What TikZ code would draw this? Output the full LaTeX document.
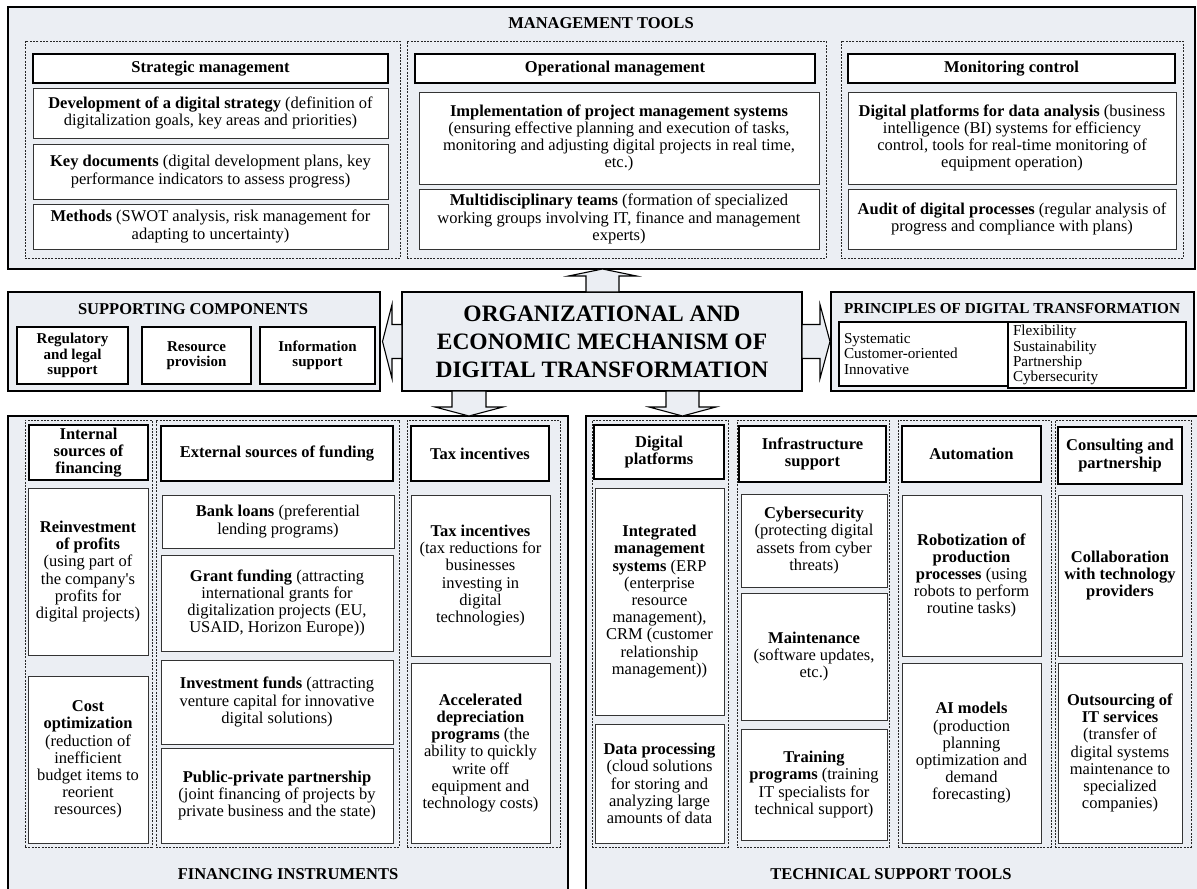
\documentclass[tikz,border=0pt]{standalone}
\usepackage{fontspec}
\setmainfont{Liberation Serif}
\newfontfamily\plainfnt{Liberation Serif}[Ligatures=TeXOff]
\newcommand\apos{{\plainfnt'}}
\usetikzlibrary{calc}
\definecolor{bgc}{HTML}{EBEEF3}
\tikzset{
  sect/.style={draw=black, line width=1.6pt, fill=bgc},
  grp/.style={draw=black!85, line width=0.7pt, dash pattern=on 2pt off 1.3pt},
  hdr/.style={draw=black, line width=2pt, fill=white, font=\fontsize{16.5}{17.2}\selectfont\bfseries},
  itm/.style={draw=black!80, line width=0.9pt, fill=white, font=\fontsize{16.5}{17.2}\selectfont},
  sub/.style={draw=black, line width=2pt, fill=white, font=\fontsize{15}{15.5}\selectfont\bfseries},
  ttl/.style={font=\fontsize{16.5}{18}\selectfont\bfseries},
  prc/.style={draw=black, line width=1.5pt, fill=white, align=left, anchor=north west, outer sep=0pt, inner xsep=5pt, font=\fontsize{15.2}{15.8}\selectfont},
  barrow/.style={draw=black, line width=1.1pt, fill=bgc, line join=miter},
}
\newcommand\bx[7]{%
  \pgfmathsetmacro\bxw{#5-#3}\pgfmathsetmacro\bxh{#6-#4}%
  \node[#2, minimum width=\bxw pt, minimum height=\bxh pt, inner sep=2pt, outer sep=0pt, anchor=north west, align=center] (#1) at (#3,#4) {#7};}
\begin{document}
\begin{tikzpicture}[x=1pt,y=-1pt]
\useasboundingbox (0,0) rectangle (1197,889);
% ---------- sections ----------
\bx{mgmt}{sect}{8}{7}{1195}{269}{}
\bx{sup}{sect}{8}{292}{380}{391}{}
\bx{ctr}{sect, font=\fontsize{23.5}{28}\selectfont\bfseries}{402}{292}{802}{391}{ORGANIZATIONAL AND\\ECONOMIC MECHANISM OF\\DIGITAL TRANSFORMATION}
\bx{prin}{sect}{831}{292}{1194}{391}{}
\bx{fin}{sect}{8}{416}{568}{896}{}
\bx{tech}{sect}{586}{416}{1200}{896}{}
% ---------- section titles ----------
\node[ttl] (tM) at (601,23) {MANAGEMENT TOOLS};
\node[ttl] (tS) at (193,309) {SUPPORTING COMPONENTS};
\node[ttl, font=\fontsize{15.2}{16}\selectfont\bfseries] (tP) at (1012,309) {PRINCIPLES OF DIGITAL TRANSFORMATION};
\node[ttl] (tF) at (288,874) {FINANCING INSTRUMENTS};
\node[ttl] (tT) at (891,874) {TECHNICAL SUPPORT TOOLS};
% ---------- management tools ----------
\bx{gS}{grp}{25}{41}{400}{258}{}
\bx{gO}{grp}{407}{41}{826}{258}{}
\bx{gM}{grp}{841}{41}{1183}{258}{}
\bx{hS}{hdr}{33}{54}{388}{83}{Strategic management}
\bx{hO}{hdr}{415}{54}{815}{83}{Operational management}
\bx{hM}{hdr}{848}{54}{1175}{83}{Monitoring control}
\bx{s1}{itm}{33}{88}{388}{138}{\textbf{Development of a digital strategy} (definition of\\digitalization goals, key areas and priorities)}
\bx{s2}{itm}{33}{144}{388}{199}{\textbf{Key documents} (digital development plans, key\\performance indicators to assess progress)}
\bx{s3}{itm}{33}{204}{388}{249}{\textbf{Methods} (SWOT analysis, risk management for\\adapting to uncertainty)}
\bx{o1}{itm}{419}{92}{819}{184}{\textbf{Implementation of project management systems}\\(ensuring effective planning and execution of tasks,\\monitoring and adjusting digital projects in real time,\\etc.)}
\bx{o2}{itm}{419}{189}{819}{249}{\textbf{Multidisciplinary teams} (formation of specialized\\working groups involving IT, finance and management\\experts)}
\bx{m1}{itm}{848}{92}{1176}{184}{\textbf{Digital platforms for data analysis} (business\\intelligence (BI) systems for efficiency\\control, tools for real-time monitoring of\\equipment operation)}
\bx{m2}{itm}{848}{189}{1176}{249}{\textbf{Audit of digital processes} (regular analysis of\\progress and compliance with plans)}
% ---------- supporting components ----------
\bx{r1}{sub}{17}{327}{128}{384}{Regulatory\\and legal\\support}
\bx{r2}{sub}{142}{327}{251}{384}{Resource\\provision}
\bx{r3}{sub}{260}{327}{375}{384}{Information\\support}
% ---------- principles ----------
\node[prc, minimum height=64pt, text width=159pt] (pl) at (839,322) {Systematic\\Customer-oriented\\Innovative};
\node[prc, minimum height=64pt, text width=168pt, font=\fontsize{15.2}{15.2}\selectfont] (pr) at (1008,322) {Flexibility\\Sustainability\\Partnership\\Cybersecurity};
% ---------- financing instruments ----------
\bx{gI}{grp}{25}{420}{152}{847}{}
\bx{gE}{grp}{156}{420}{399}{847}{}
\bx{gT}{grp}{407}{420}{560}{847}{}
\bx{hI}{hdr}{29}{425}{148}{480}{Internal\\sources of\\financing}
\bx{hE}{hdr}{161}{426}{393}{481}{External sources of funding}
\bx{hT}{hdr}{411}{426}{549}{481}{Tax incentives}
\bx{i1}{itm}{28}{488}{148}{655}{\textbf{Reinvestment}\\\textbf{of profits}\\(using part of\\the company\apos s\\profits for\\digital projects)}
\bx{i2}{itm}{28}{676}{148}{843}{\textbf{Cost}\\\textbf{optimization}\\(reduction of\\inefficient\\budget items to\\reorient\\resources)}
\bx{e1}{itm}{162}{495}{394}{548}{\textbf{Bank loans} (preferential\\lending programs)}
\bx{e2}{itm}{161}{555}{393}{651}{\textbf{Grant funding} (attracting\\international grants for\\digitalization projects (EU,\\USAID, Horizon Europe))}
\bx{e3}{itm}{161}{660}{393}{744}{\textbf{Investment funds} (attracting\\venture capital for innovative\\digital solutions)}
\bx{e4}{itm}{161}{748}{393}{843}{\textbf{Public-private partnership}\\(joint financing of projects by\\private business and the state)}
\bx{t1}{itm}{411}{495}{550}{656}{\textbf{Tax incentives}\\(tax reductions for\\businesses\\investing in\\digital\\technologies)}
\bx{t2}{itm}{411}{663}{550}{843}{\textbf{Accelerated}\\\textbf{depreciation}\\\textbf{programs} (the\\ability to quickly\\write off\\equipment and\\technology costs)}
% ---------- technical support tools ----------
\bx{gD}{grp}{592}{420}{728}{847}{}
\bx{gF}{grp}{737}{420}{889}{847}{}
\bx{gA}{grp}{898}{420}{1051}{847}{}
\bx{gC}{grp}{1055}{420}{1191}{847}{}
\bx{hD}{hdr}{594}{425}{724}{479}{Digital\\platforms}
\bx{hF}{hdr}{739}{426}{886}{482}{Infrastructure\\support}
\bx{hA}{hdr}{902}{426}{1041}{482}{Automation}
\bx{hC}{hdr}{1058}{427}{1182}{484}{Consulting and\\partnership}
\bx{d1}{itm}{595}{488}{724}{715}{\textbf{Integrated}\\\textbf{management}\\\textbf{systems} (ERP\\(enterprise\\resource\\management),\\CRM (customer\\relationship\\management))}
\bx{d2}{itm}{595}{724}{724}{843}{\textbf{Data processing}\\(cloud solutions\\for storing and\\analyzing large\\amounts of data}
\bx{f1}{itm}{741}{494}{887}{587}{\textbf{Cybersecurity}\\(protecting digital\\assets from cyber\\threats)}
\bx{f2}{itm}{741}{593}{887}{720}{\textbf{Maintenance}\\(software updates,\\etc.)}
\bx{f3}{itm}{741}{729}{887}{840}{\textbf{Training}\\\textbf{programs} (training\\IT specialists for\\technical support)}
\bx{a1}{itm}{902}{495}{1041}{656}{\textbf{Robotization of}\\\textbf{production}\\\textbf{processes} (using\\robots to perform\\routine tasks)}
\bx{a2}{itm}{902}{663}{1041}{843}{\textbf{AI models}\\(production\\planning\\optimization and\\demand\\forecasting)}
\bx{c1}{itm}{1058}{495}{1182}{656}{\textbf{Collaboration}\\\textbf{with technology}\\\textbf{providers}}
\bx{c2}{itm}{1058}{663}{1182}{843}{\textbf{Outsourcing of}\\\textbf{IT services}\\(transfer of\\digital systems\\maintenance to\\specialized\\companies)}
% ---------- block arrows ----------
\coordinate (up) at ($(ctr.north)+(0.5,0)$);
\draw[barrow] ($(up)+(-16.5,0)$) -- ($(up)+(-16.5,-16)$) -- ($(up)+(-34,-16)$) -- (up |- mgmt.south) -- ($(up)+(34,-16)$) -- ($(up)+(16.5,-16)$) -- ($(up)+(16.5,0)$) -- cycle;
\coordinate (dl) at ($(ctr.south)+(-133,0)$);
\draw[barrow] ($(dl)+(-17,0)$) -- ($(dl)+(-17,16)$) -- ($(dl)+(-34,16)$) -- (dl |- fin.north) -- ($(dl)+(34,16)$) -- ($(dl)+(17,16)$) -- ($(dl)+(17,0)$) -- cycle;
\coordinate (dr) at ($(ctr.south)+(80.5,0)$);
\draw[barrow] ($(dr)+(-16.5,0)$) -- ($(dr)+(-16.5,16)$) -- ($(dr)+(-33.5,16)$) -- (dr |- tech.north) -- ($(dr)+(33.5,16)$) -- ($(dr)+(16.5,16)$) -- ($(dr)+(16.5,0)$) -- cycle;
\coordinate (la) at (ctr.west);
\coordinate (lt) at ($(la -| sup.east)+(2.5,0)$);
\draw[barrow] ($(la)+(0,-17)$) -- ($(la)+(-10,-17)$) -- ($(la)+(-10,-37)$) -- (lt) -- ($(la)+(-10,37)$) -- ($(la)+(-10,17)$) -- ($(la)+(0,17)$) -- cycle;
\coordinate (ra) at (ctr.east);
\coordinate (rt) at ($(ra -| prin.west)+(-1,0)$);
\draw[barrow] ($(ra)+(0,-17)$) -- ($(ra)+(18,-17)$) -- ($(ra)+(18,-37)$) -- (rt) -- ($(ra)+(18,37)$) -- ($(ra)+(18,17)$) -- ($(ra)+(0,17)$) -- cycle;
\end{tikzpicture}
\end{document}
